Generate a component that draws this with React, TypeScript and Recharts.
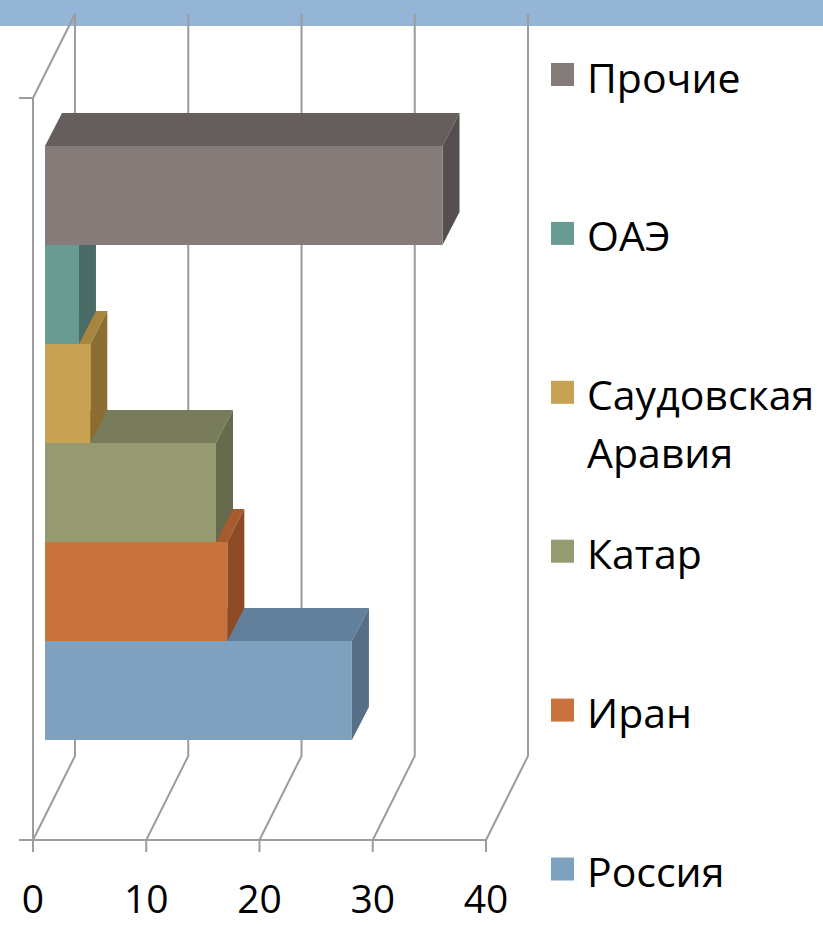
import { BarChart, Bar, XAxis, YAxis, CartesianGrid, ReferenceLine } from "recharts";

// gas share by country, bottom bar first
const countries = ["Россия", "Иран", "Катар", "Саудовская Аравия", "ОАЭ", "Прочие"];
const shares = [27.1, 16.1, 15.1, 4.0, 3.0, 35.1];
const xTicks = [0, 10, 20, 30, 40];

const frontColors = ["#7EA1BF", "#C8723D", "#959A70", "#C8A253", "#6A9B93", "#857C7A"];
const topColors = ["#627F9B", "#A65B2F", "#787C5A", "#A6853F", "#557D77", "#655E5D"];
const sideColors = ["#566E86", "#8E4A24", "#666A4C", "#8C6E32", "#4A6B66", "#55504F"];

const data = countries.map((name, i) => ({ name, value: shares[i] }));

const W = 823;
const H = 925;
const GRID = "#9c9c9c";
const FONT = "'Open Sans', 'DejaVu Sans', sans-serif";

// fake 3d: wall depth, bar position in depth, bar thickness
const WALL_DX = 42;
const WALL_DY = -84;
const BAR_DX = 12;
const BAR_DY = -24;
const DEPTH_DX = 17;
const DEPTH_DY = -33;

function Bar3D(props: any) {
  const { x, y, width, height, payload } = props;
  if (width == null || height == null) return null;
  const i = countries.indexOf(payload.name);
  const fx = x + BAR_DX;
  const fy = y + BAR_DY;
  const top = `${fx},${fy} ${fx + DEPTH_DX},${fy + DEPTH_DY} ${fx + width + DEPTH_DX},${fy + DEPTH_DY} ${fx + width},${fy}`;
  const side = `${fx + width},${fy} ${fx + width + DEPTH_DX},${fy + DEPTH_DY} ${fx + width + DEPTH_DX},${fy + height + DEPTH_DY} ${fx + width},${fy + height}`;
  return (
    <g>
      <polygon points={top} fill={topColors[i]} />
      <polygon points={side} fill={sideColors[i]} />
      <rect x={fx} y={fy} width={width} height={height} fill={frontColors[i]} />
    </g>
  );
}

const gridLine = (p: any) => {
  const { x1, y1, y2 } = p;
  return (
    <path
      key={`v-${p.index}`}
      d={`M${x1},${y2} L${x1 + WALL_DX},${y2 + WALL_DY} L${x1 + WALL_DX},${y1 + WALL_DY}`}
      stroke={GRID}
      strokeWidth={2}
      fill="none"
    />
  );
};

const leftWall = (p: any) => {
  const { x1, y1, y2 } = p;
  const top = Math.min(y1, y2);
  const bottom = Math.max(y1, y2);
  return (
    <path
      d={`M${x1},${bottom} L${x1},${top} L${x1 + WALL_DX},${top + WALL_DY} M${x1 - 14},${top} L${x1},${top} M${x1 - 14},${bottom} L${x1},${bottom}`}
      stroke={GRID}
      strokeWidth={2}
      fill="none"
    />
  );
};

const XTick = ({ x, y, payload }: any) => (
  <text x={x} y={y + 59} textAnchor="middle" fontSize={39} fontFamily={FONT} fill="#000">
    {payload.value}
  </text>
);

function Legend3D() {
  const items = [...countries].reverse();
  return (
    <svg width={W} height={H} style={{ position: "absolute", left: 0, top: 0, pointerEvents: "none" }}>
      {items.map((name, k) => {
        const i = countries.indexOf(name);
        const cy = 74.5 + k * 158.9;
        const lines = name.length > 10 ? name.split(" ") : [name];
        return (
          <g key={name}>
            <rect x={551} y={cy - 11.5} width={23} height={23} fill={frontColors[i]} />
            <text x={587} y={cy + 18} fontSize={41} fontFamily={FONT} fill="#000">
              {lines.map((t, j) => (
                <tspan key={t} x={587} dy={j === 0 ? 0 : 58}>
                  {t}
                </tspan>
              ))}
            </text>
          </g>
        );
      })}
    </svg>
  );
}

export default function App() {
  return (
    <div style={{ position: "absolute", left: 0, top: 0, width: W, height: H, background: "#fff" }}>
      <div style={{ position: "absolute", left: 0, top: 0, width: W, height: 26, background: "#94B5D5" }} />
      <div style={{ position: "absolute", left: 0, top: 0 }}>
        <BarChart
          width={W}
          height={H}
          data={data}
          layout="vertical"
          barCategoryGap={0}
          barGap={0}
          margin={{ top: 98, right: 337, bottom: 25, left: 33 }}
        >
          <CartesianGrid horizontal={false} vertical={gridLine} syncWithTicks />
          <XAxis
            type="number"
            domain={[0, 40]}
            ticks={xTicks}
            interval={0}
            height={60}
            tickSize={12}
            axisLine={{ stroke: GRID, strokeWidth: 2 }}
            tickLine={{ stroke: GRID, strokeWidth: 2 }}
            tick={<XTick />}
          />
          <YAxis type="category" dataKey="name" reversed hide width={0} padding={{ top: 72, bottom: 76 }} />
          <ReferenceLine x={0} shape={leftWall} />
          <Bar dataKey="value" shape={Bar3D} isAnimationActive={false} />
        </BarChart>
      </div>
      <Legend3D />
    </div>
  );
}
